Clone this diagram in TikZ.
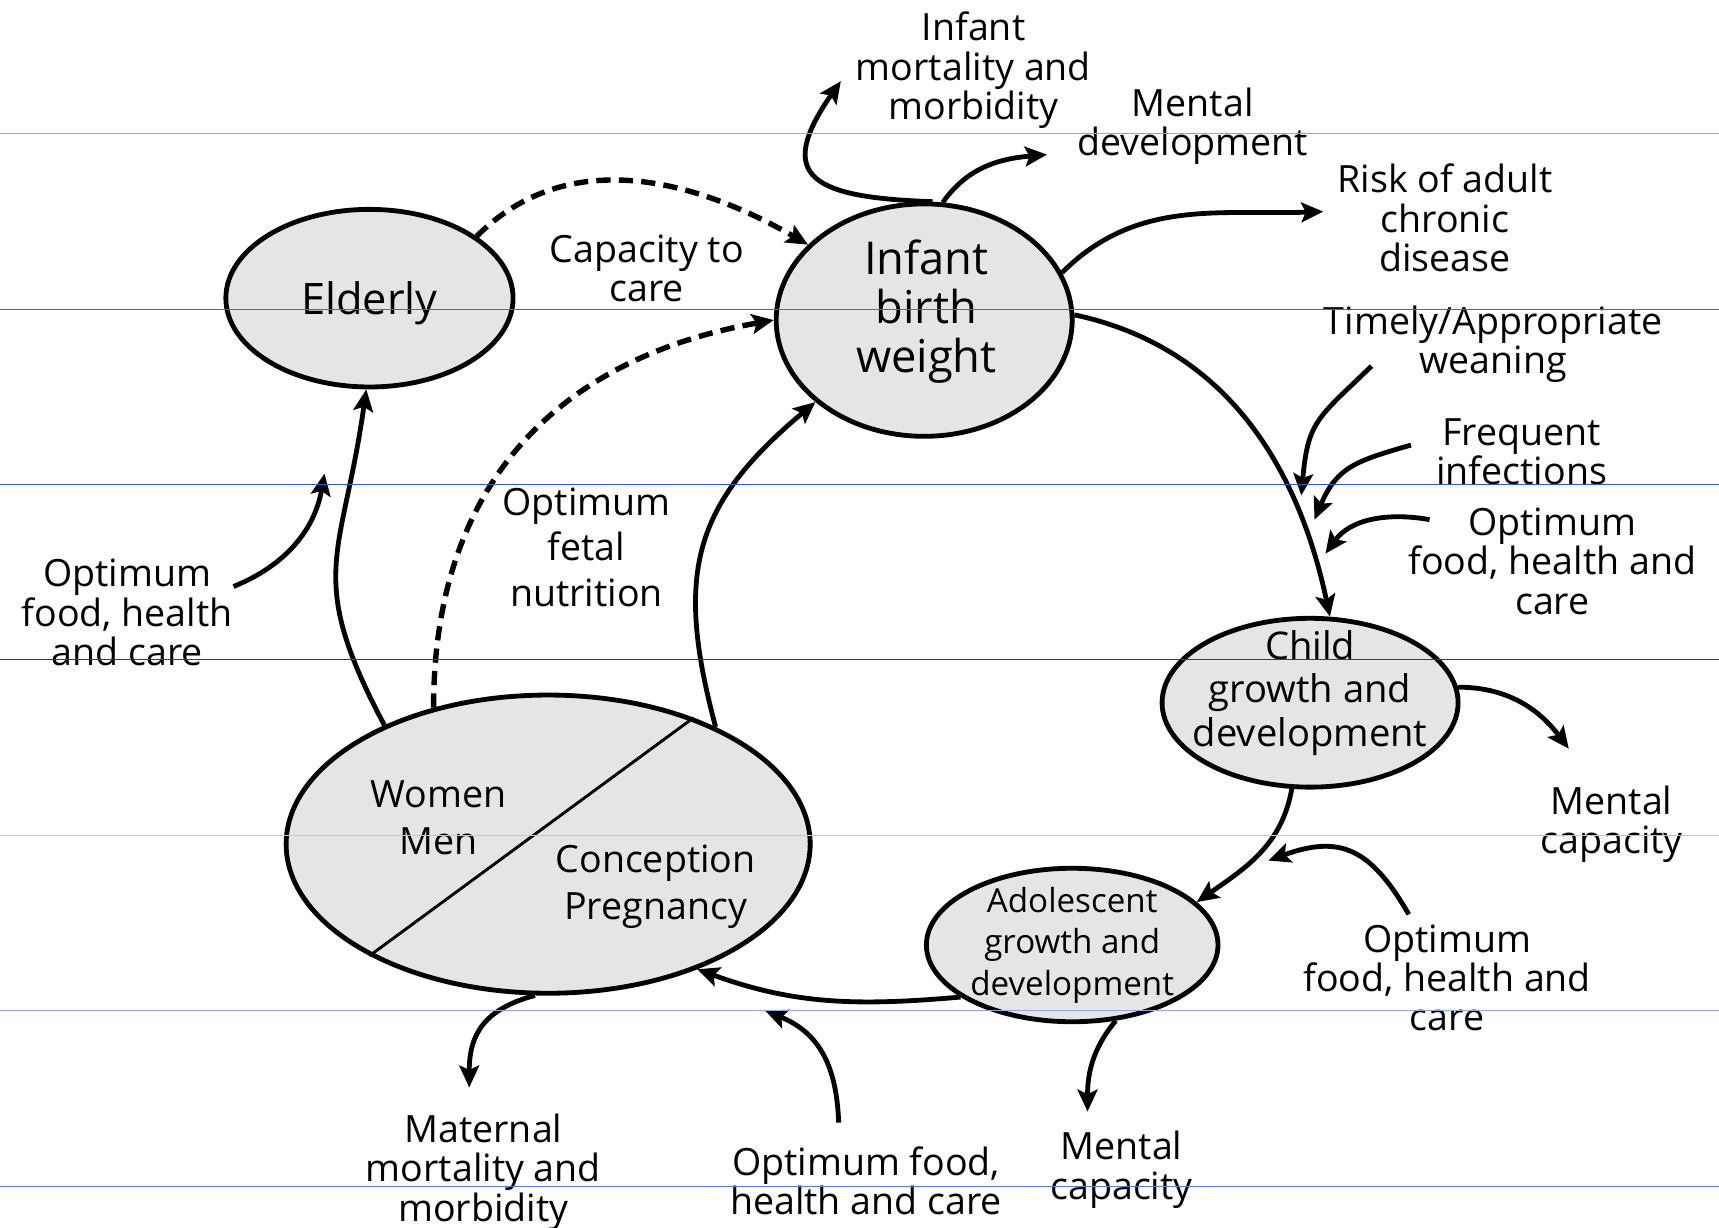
\documentclass[tikz,border=0pt]{standalone}
\usepackage{fontspec}
\setmainfont{Open Sans}
\usetikzlibrary{shapes.geometric,arrows.meta}

\definecolor{rulea}{HTML}{8FA6E8}
\definecolor{ruleb}{HTML}{4A66CC}
\definecolor{rulec}{HTML}{3A58C6}
\definecolor{ruled}{HTML}{1638C2}
\definecolor{rulee}{HTML}{B8C6F0}
\definecolor{rulef}{HTML}{90A6E8}
\definecolor{ruleg}{HTML}{5C7AD8}

\tikzset{
  blob/.style={ellipse, draw, line width=2.5pt, fill=black!10, inner sep=0pt},
  lbl/.style={align=center, inner sep=1mm, font=\fontsize{19.5}{20.5}\selectfont},
  arr/.style={-{Stealth[length=4mm,width=3.6mm,inset=0.8mm]}, line width=2.5pt},
  dsh/.style={arr, line width=2.8pt, dash pattern=on 2.6mm off 1.5mm},
  rule/.style={line width=0.55pt}
}

\begin{document}
\begin{tikzpicture}[x=0.2mm, y=0.2mm]
  \useasboundingbox (0,0) rectangle (1568,1120);

  % stages of the cycle
  \node[blob, minimum width=52.4mm, minimum height=32.4mm] (eld) at (337,848) {};
  \node[blob, minimum width=54mm, minimum height=42.4mm] (ibw) at (843,828) {};
  \node[blob, minimum width=54mm, minimum height=30.8mm] (child) at (1195,479) {};
  \node[blob, minimum width=53.2mm, minimum height=28mm] (adol) at (978,258) {};
  \node[blob, minimum width=95.6mm, minimum height=54.4mm] (wm) at (500,350) {};
  \draw[line width=1.5pt] (wm.212) -- (wm.41);

  \node[lbl, font=\fontsize{22.5}{24}\selectfont] (eldt) at (337,843) {Elderly};
  \node[lbl, font=\fontsize{23.5}{25.5}\selectfont] (ibwt) at (845,836) {Infant\\birth\\weight};
  \node[lbl, font=\fontsize{19.8}{22.7}\selectfont] (childt) at (1195,488) {Child\\growth and\\development};
  \node[lbl, font=\fontsize{17.2}{21.5}\selectfont] (adolt) at (978,258) {Adolescent\\growth and\\development};
  \node[lbl, font=\fontsize{19.5}{24.4}\selectfont] (wmt) at (400,374) {Women\\Men};
  \node[lbl, font=\fontsize{19.5}{24.4}\selectfont] (cpt) at (598,311) {Conception\\Pregnancy};

  % labels
  \node[lbl] (mort) at (888,1056) {Infant\\mortality and\\morbidity};
  \node[lbl] (mdev) at (1088,1005) {Mental\\development};
  \node[lbl] (risk) at (1318,921) {Risk of adult\\chronic\\disease};
  \node[lbl] (wean) at (1362,806) {Timely/Appropriate\\weaning};
  \node[lbl] (infec) at (1388,708) {Frequent\\infections};
  \node[lbl] (ofoodA) at (1416,608) {Optimum\\food, health and\\care};
  \node[lbl] (mcapA) at (1470,368) {Mental\\capacity};
  \node[lbl] (ofoodB) at (1320,228) {Optimum\\food, health and\\care};
  \node[lbl] (mcapB) at (1023,53) {Mental\\capacity};
  \node[lbl] (ofoodC) at (790,43) {Optimum food,\\health and care};
  \node[lbl] (matm) at (441,51) {Maternal\\mortality and\\morbidity};
  \node[lbl] (ofoodD) at (116,561) {Optimum\\food, health\\and care};
  \node[lbl, font=\fontsize{19.5}{23.6}\selectfont] (fetal) at (535,621) {Optimum\\fetal\\nutrition};
  \node[lbl] (capc) at (590,875) {Capacity to\\care};

  % arrow ends on other arrows
  \coordinate (tD) at (296,688);
  \coordinate (tW) at (1187,668);
  \coordinate (tI) at (1199,646);
  \coordinate (tA) at (1209,615);
  \coordinate (tB) at (1157,335);
  \coordinate (tC) at (698,198);

  % cycle
  \draw[dsh] (eld.30) to[out=45, in=150] (ibw.147);
  \draw[dsh] (wm.130) to[out=90, in=190, looseness=1.1] (ibw.180);
  \draw[arr] (wm.144) to[out=118, in=262, looseness=1.3] (eld.268);
  \draw[arr] (wm.35) to[out=105, in=220, looseness=1.2] (ibw.217);
  \draw[arr] (ibw.2) to[out=-12, in=102] (child.77);
  \draw[arr] (child.258) to[out=-100, in=35] (adol.19);
  \draw[arr] (adol.205) to[out=185, in=-20] (wm.320);

  % outcomes
  \draw[arr] (ibw.86) to[out=178, in=235, looseness=2] ([shift={(-121,-10)}]mort.center);
  \draw[arr] (ibw.81) to[out=55, in=185] ([shift={(-133,-26)}]mdev.center);
  \draw[arr] (ibw.19) to[out=45, in=182] ([shift={(-111,6)}]risk.center);
  \draw[arr] (child.6) to[out=0, in=127] ([shift={(-39,69)}]mcapA.center);
  \draw[arr] (adol.300) to[out=-130, in=90] ([shift={(-31,53)}]mcapB.center);
  \draw[arr] (wm.265) to[out=195, in=90, looseness=1.2] ([shift={(-13,77)}]matm.center);

  % inputs
  \draw[arr] ([shift={(97,24)}]ofoodD.center) to[out=22, in=260] (tD);
  \draw[arr] ([shift={(-111,-20)}]wean.center) to[out=-136, in=85, looseness=1.3] (tW);
  \draw[arr] ([shift={(-101,6)}]infec.center) to[out=196, in=67, looseness=1.2] (tI);
  \draw[arr] ([shift={(-112,38)}]ofoodA.center) to[out=170, in=54] (tA);
  \draw[arr] ([shift={(-35,58)}]ofoodB.center) to[out=120, in=20, looseness=1.3] (tB);
  \draw[arr] ([shift={(-25,53)}]ofoodC.center) to[out=92, in=-22, looseness=1.1] (tC);

  % ruling of the scan
  \draw[rule, rulea] (0,998) -- (1568,998);
  \draw[rule, ruleb] (0,838) -- (1568,838);
  \draw[rule, rulec] (0,678) -- (1568,678);
  \draw[rule, ruled] (0,518) -- (1568,518);
  \draw[rule, rulee] (0,358) -- (1568,358);
  \draw[rule, rulef] (0,198) -- (1568,198);
  \draw[rule, ruleg] (0,38) -- (1568,38);
\end{tikzpicture}
\end{document}
